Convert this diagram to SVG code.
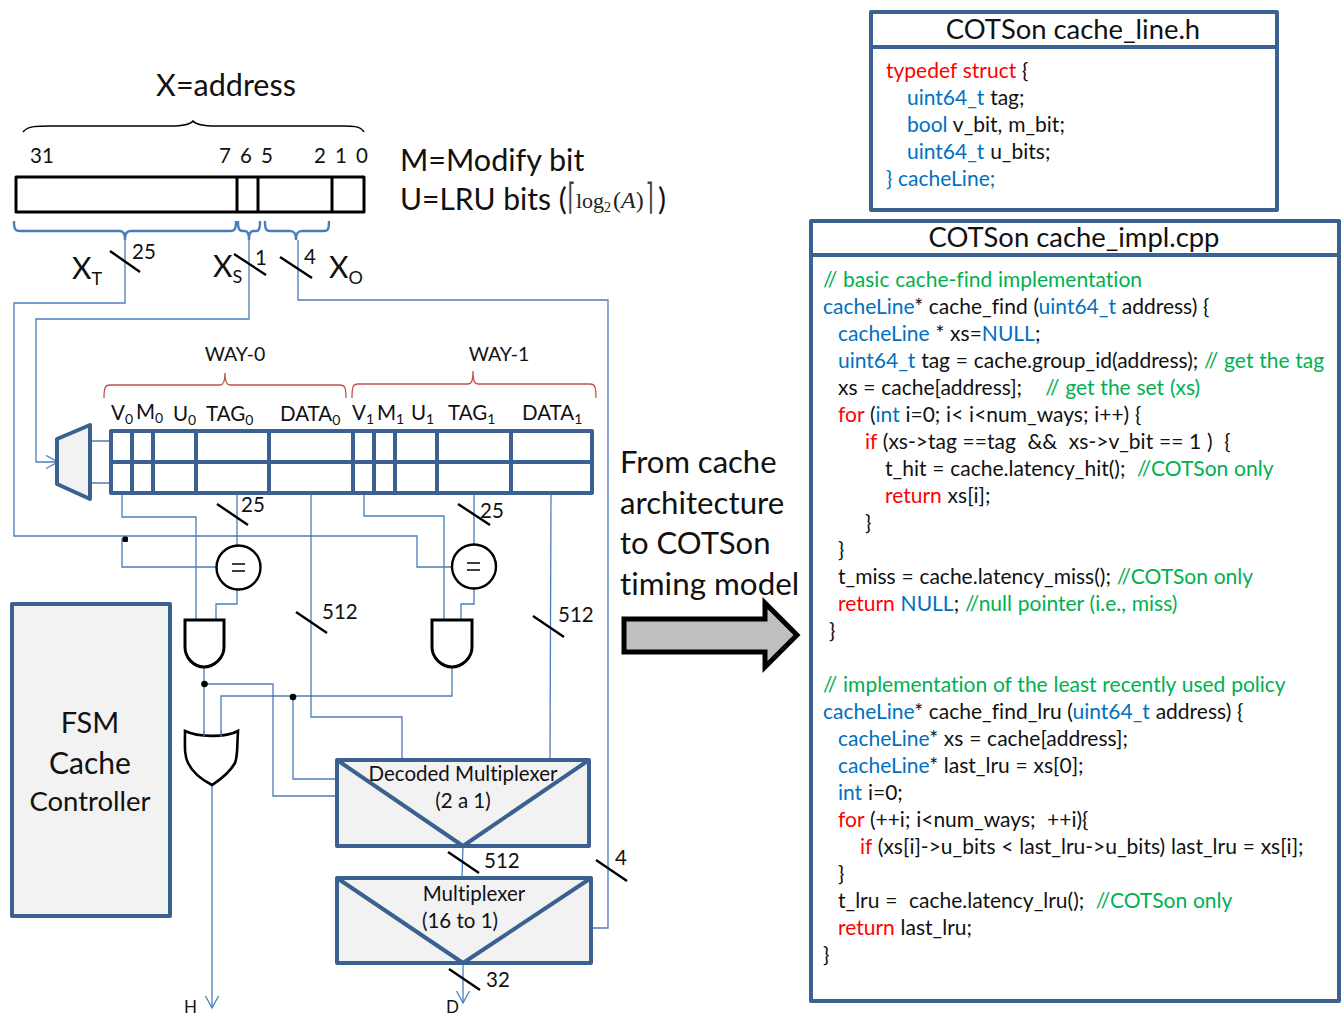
<svg xmlns="http://www.w3.org/2000/svg" width="1344" height="1017" viewBox="0 0 1344 1017">
<defs>
<marker id="open" markerWidth="16" markerHeight="16" refX="13" refY="7" orient="auto" markerUnits="userSpaceOnUse"><path d="M1 0.5L13 7L1 13.5" fill="none" stroke="#4a7ebb" stroke-width="1.3"/></marker>
</defs>
<style>
text{font-family:Lato,"Liberation Sans",sans-serif;fill:#111;white-space:pre;font-variant-ligatures:none}
.w{fill:none;stroke:#4a7ebb;stroke-width:1.3}
.b{fill:none;stroke:#4a7ebb;stroke-width:2.4}
.s{stroke:#000;stroke-width:2.4;fill:none}
.d{fill:none;stroke:#3a6190;stroke-width:4;stroke-linejoin:round}
.g{fill:#f2f2f2;stroke:#3a6190;stroke-width:4;stroke-linejoin:round}
.k{fill:none;stroke:#000;stroke-width:3;stroke-linejoin:round}
.r{fill:none;stroke:#c0504d;stroke-width:1.3}
.c{font-size:21px;word-spacing:.4px}
.l{font-size:20.500px}
.h{font-size:27.400px}
.bl{fill:#0070c0}.re{fill:#ff0000}.gr{fill:#00b050}
.sub{font-size:14px}
.ms{font-family:"Liberation Serif",serif;fill:#222}
.mc{font-family:"DejaVu Sans",sans-serif;fill:#444;font-size:36px}
</style>

<g id="address">
<text x="226" y="96" text-anchor="middle" font-size="30.500">X=address</text>
<path class="s" style="stroke-width:1.5" d="M23 132C28 125 40 126 60 126H170C182 126 190 125 193 121C196 125 204 126 216 126H335C350 126 360 125 364 132"/>
<rect class="k" x="16" y="177" width="348" height="35"/>
<path class="k" d="M237 177V212M258 177V212M332 177V212"/>
<text class="l" x="30" y="163">31</text><text class="l" x="219" y="163">7</text><text class="l" x="240" y="163">6</text><text class="l" x="261" y="163">5</text><text class="l" x="314" y="163">2</text><text class="l" x="335" y="163">1</text><text class="l" x="356" y="163">0</text>
<path class="b" d="M14 221C14 229 15 231 20 231H120C123 231 125 233 125 240C125 233 127 231 130 231H230C235 231 236 229 236 221"/>
<path class="b" d="M238 221C238 229 239 231 243 231H245C247 231 249 233 249 240C249 233 251 231 253 231H256C259 231 260 229 260 221"/>
<path class="b" d="M265 221C265 229 266 231 270 231H290C294 231 296 233 296 240C296 233 298 231 302 231H324C328 231 329 229 329 221"/>
<text x="72" y="279" font-size="30">X<tspan font-size="18" dy="6">T</tspan></text>
<text x="213" y="277" font-size="30">X<tspan font-size="18" dy="6">S</tspan></text>
<text x="329" y="278" font-size="30">X<tspan font-size="18" dy="6">O</tspan></text>
</g>

<g id="legend">
<text x="400" y="171" font-size="30.500">M=Modify bit</text>
<text x="400" y="210" font-size="30">U=LRU bits (</text>
<text class="mc" transform="translate(567.500 209) scale(.58 1)">⌈</text>
<text class="ms" x="576" y="208" font-size="22">log</text>
<text class="ms" x="604" y="212" font-size="14">2</text>
<text class="ms" x="613" y="208" font-size="24">(<tspan font-style="italic">A</tspan>)</text>
<text class="mc" transform="translate(645.500 209) scale(.58 1)">⌉</text>
<text x="658" y="210" font-size="30">)</text>
</g>

<g id="connectors">
<path class="w" d="M125 240V303H14V536H417V567H452"/>
<path class="w" d="M125 539H122V567H217"/>
<path class="w" d="M249 240V319H36V462H58" marker-end="url(#open)"/>
<path class="w" d="M298 240V300H608V928H590"/>
<path class="w" d="M90 441H110M90 483H110"/>
<path class="w" d="M122 493V517H196V620"/>
<path class="w" d="M237 493V546M237 589V604H216V620"/>
<path class="w" d="M311 493V717H402V758"/>
<path class="w" d="M364 493V516H444V620"/>
<path class="w" d="M474 493V545M474 589V604H461V620"/>
<path class="w" d="M551 493L550 758"/>
<path class="w" d="M452 667V696H221V737"/>
<path class="w" d="M293 697V779H336"/>
<path class="w" d="M204 667V736"/>
<path class="w" d="M204 684H273V796H336"/>
<path class="w" d="M212 785V1008" marker-end="url(#open)"/>
<path class="w" d="M463 846L462 878"/>
<path class="w" d="M463 963V1003" marker-end="url(#open)"/>
<circle cx="204.500" cy="684" r="3.300" fill="#000"/>
<circle cx="293" cy="697" r="3.300" fill="#000"/>
<rect x="122.500" y="536.500" width="5.500" height="5.500" rx="1.500" fill="#000"/>
</g>

<g id="bus-slashes">
<path class="s" d="M110 251L140 272M234 254L266 275M280 257L312 278M217 504L248 525M458 504L490 525M296 612L327 633M533 616L564 637M448 852L479 873M596 860L627 881M449 969L480 990"/>
<text class="l" x="132" y="259">25</text><text class="l" x="255" y="265">1</text><text class="l" x="304" y="264">4</text>
<text class="l" x="241" y="512">25</text><text class="l" x="480" y="518">25</text>
<text class="l" x="322" y="619">512</text><text class="l" x="558" y="622">512</text>
<text class="l" x="484" y="868">512</text><text class="l" x="615" y="865">4</text><text class="l" x="486" y="987">32</text>
</g>

<g id="cache-array">
<text x="235" y="361" font-size="19.500" text-anchor="middle">WAY-0</text>
<text x="499" y="361" font-size="19.500" text-anchor="middle">WAY-1</text>
<path class="r" d="M104 398C104 388 105 385 110 385H220C223 385 225 383 225 373C225 383 227 385 230 385H340C345 385 346 388 346 398"/>
<path class="r" d="M352 398C352 387 353 384 358 384H468C471 384 473 382 473 371C473 382 475 384 478 384H590C595 384 596 387 596 398"/>
<text class="l" x="111" y="420">V<tspan class="sub" dy="4">0</tspan></text>
<text class="l" x="136" y="419">M<tspan class="sub" dy="4">0</tspan></text>
<text class="l" x="173" y="421">U<tspan class="sub" dy="4">0</tspan></text>
<text class="l" x="206" y="421">TAG<tspan class="sub" dy="4">0</tspan></text>
<text class="l" x="280" y="421">DATA<tspan class="sub" dy="4">0</tspan></text>
<text class="l" x="352" y="420">V<tspan class="sub" dy="4">1</tspan></text>
<text class="l" x="377" y="420">M<tspan class="sub" dy="4">1</tspan></text>
<text class="l" x="411" y="420">U<tspan class="sub" dy="4">1</tspan></text>
<text class="l" x="448" y="420">TAG<tspan class="sub" dy="4">1</tspan></text>
<text class="l" x="522" y="420">DATA<tspan class="sub" dy="4">1</tspan></text>
<rect class="d" x="111" y="431" width="481" height="62"/>
<path class="d" d="M111 462H592M132 431V493M153 431V493M196 431V493M269 431V493M353 431V493M374 431V493M395 431V493M437 431V493M511 431V493"/>
</g>

<g id="decoder"><path class="g" d="M57 439L90 425V499L57 484Z"/></g>

<g id="comparator-0"><circle cx="238.500" cy="567.500" r="22" class="s" style="fill:#fff"/><path d="M232 564H245M232 571H245" stroke="#000" stroke-width="1.500"/></g>
<g id="comparator-1"><circle cx="474" cy="566.500" r="22" class="s" style="fill:#fff"/><path d="M467 563H480M467 570H480" stroke="#000" stroke-width="1.500"/></g>

<g id="and-0"><path class="s" style="stroke-width:3;fill:#fff" d="M185 620H224V647C224 658 214 667 204 667C194 667 185 658 185 647Z"/></g>
<g id="and-1"><path class="s" style="stroke-width:3;fill:#fff" d="M432 620H472V647C472 658 462 667 452 667C442 667 432 658 432 647Z"/></g>
<g id="or-0"><path class="s" style="stroke-width:2.600;fill:#fff" d="M185 731C198 737 225 738 238 731C237 745 238 755 235 763C228 775 218 781 212 785C204 781 194 775 188 763C184 755 185 745 185 731Z"/><path class="w" d="M204 731V736M221 731V737"/></g>

<g id="fsm"><rect class="g" x="12" y="604" width="158" height="312"/>
<text x="90" y="733" font-size="29" text-anchor="middle">FSM</text>
<text x="90" y="774" font-size="30" text-anchor="middle">Cache</text>
<text x="90" y="811" font-size="27.500" text-anchor="middle">Controller</text></g>

<g id="mux-decoded"><rect class="g" x="337" y="760" width="252" height="86"/>
<path class="d" d="M337 760L463 846L589 760"/>
<text class="l" x="463" y="781" text-anchor="middle">Decoded Multiplexer</text>
<text class="l" x="463" y="808" text-anchor="middle">(2 a 1)</text></g>

<g id="mux-16"><rect class="g" x="337" y="878" width="254" height="85"/>
<path class="d" d="M337 878L463 963L591 878"/>
<text class="l" x="474" y="901" text-anchor="middle">Multiplexer</text>
<text class="l" x="460" y="928" text-anchor="middle">(16 to 1)</text></g>

<g id="output-labels"><text x="184" y="1013" font-size="17">H</text><text x="446" y="1013" font-size="17">D</text></g>

<g id="caption">
<text x="620" y="473" font-size="31">From cache</text>
<text x="620" y="514" font-size="31.200">architecture</text>
<text x="620" y="554" font-size="31">to COTSon</text>
<text x="620" y="595" font-size="31.400">timing model</text>
<path d="M624 619H765V603L797 635L765 667V652H624Z" fill="#bfbfbf" stroke="#000" stroke-width="5"/>
</g>

<g id="cache-line">
<rect class="d" x="871" y="12" width="406" height="198"/><path class="d" d="M871 47H1277"/>
<text class="h" x="1073" y="39" text-anchor="middle">COTSon cache_line.h</text>
<text class="c" x="886" y="78"><tspan class="re">typedef struct</tspan> {</text>
<text class="c" x="907" y="105"><tspan class="bl">uint64_t</tspan> tag;</text>
<text class="c" x="907" y="132"><tspan class="bl">bool</tspan> v_bit, m_bit;</text>
<text class="c" x="907" y="159"><tspan class="bl">uint64_t</tspan> u_bits;</text>
<text class="c" x="886" y="186"><tspan class="bl">} cacheLine;</tspan></text>
</g>

<g id="cache-impl">
<rect class="d" x="811" y="221" width="528" height="780"/><path class="d" d="M811 255H1339"/>
<text class="h" x="1074" y="247" text-anchor="middle">COTSon cache_impl.cpp</text>
<text class="c gr" x="823" y="287">// basic cache-find implementation</text>
<text class="c" x="823" y="314"><tspan class="bl">cacheLine</tspan>* cache_find (<tspan class="bl">uint64_t</tspan> address) {</text>
<text class="c" x="838" y="341"><tspan class="bl">cacheLine</tspan> * xs=<tspan class="bl">NULL</tspan>;</text>
<text class="c" x="838" y="368"><tspan class="bl">uint64_t</tspan> tag = cache.group_id(address); <tspan class="gr">// get the tag</tspan></text>
<text class="c" x="838" y="395">xs = cache[address];    <tspan class="gr">// get the set (xs)</tspan></text>
<text class="c" x="838" y="422"><tspan class="re">for</tspan> (<tspan class="bl">int</tspan> i=0; i&lt; i&lt;num_ways; i++) {</text>
<text class="c" x="865" y="449"><tspan class="re">if</tspan> (xs-&gt;tag ==tag  &amp;&amp;  xs-&gt;v_bit == 1 )  {</text>
<text class="c" x="885" y="476">t_hit = cache.latency_hit();  <tspan class="gr">//COTSon only</tspan></text>
<text class="c" x="885" y="503"><tspan class="re">return</tspan> xs[i];</text>
<text class="c" x="865" y="530">}</text>
<text class="c" x="838" y="557">}</text>
<text class="c" x="838" y="584">t_miss = cache.latency_miss(); <tspan class="gr">//COTSon only</tspan></text>
<text class="c" x="838" y="611"><tspan class="re">return</tspan> <tspan class="bl">NULL</tspan>; <tspan class="gr">//null pointer (i.e., miss)</tspan></text>
<text class="c" x="829" y="638">}</text>
<text class="c gr" x="823" y="692">// implementation of the least recently used policy</text>
<text class="c" x="823" y="719"><tspan class="bl">cacheLine</tspan>* cache_find_lru (<tspan class="bl">uint64_t</tspan> address) {</text>
<text class="c" x="838" y="746"><tspan class="bl">cacheLine</tspan>* xs = cache[address];</text>
<text class="c" x="838" y="773"><tspan class="bl">cacheLine</tspan>* last_lru = xs[0];</text>
<text class="c" x="838" y="800"><tspan class="bl">int</tspan> i=0;</text>
<text class="c" x="838" y="827"><tspan class="re">for</tspan> (++i; i&lt;num_ways;  ++i){</text>
<text class="c" x="860" y="854"><tspan class="re">if</tspan> (xs[i]-&gt;u_bits &lt; last_lru-&gt;u_bits) last_lru = xs[i];</text>
<text class="c" x="838" y="881">}</text>
<text class="c" x="838" y="908">t_lru =  cache.latency_lru();  <tspan class="gr">//COTSon only</tspan></text>
<text class="c" x="838" y="935"><tspan class="re">return</tspan> last_lru;</text>
<text class="c" x="823" y="962">}</text>
</g>
</svg>
